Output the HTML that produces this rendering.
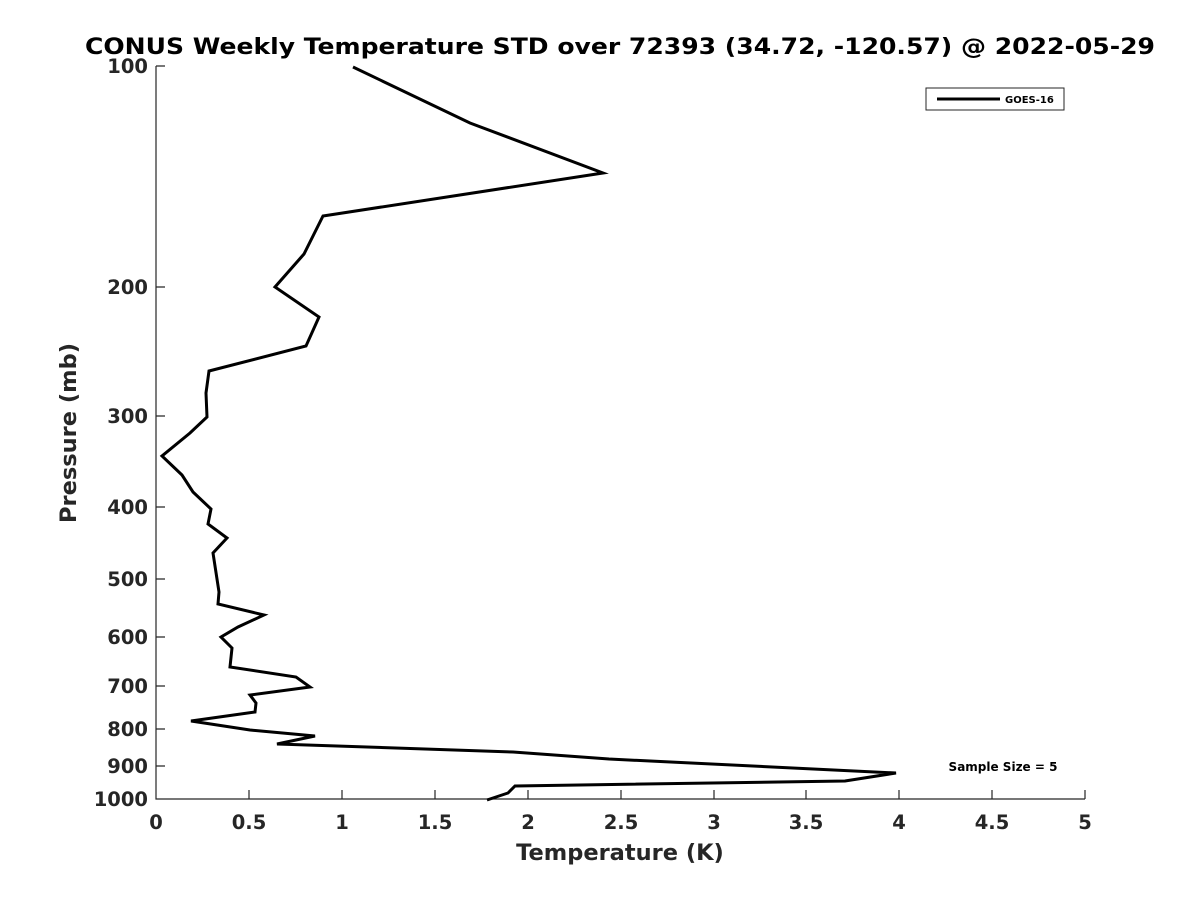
<!DOCTYPE html>
<html><head><meta charset="utf-8"><style>body{margin:0;background:#fff}svg{display:block}</style></head>
<body>
<svg width="1200" height="900" xmlns="http://www.w3.org/2000/svg" font-family="DejaVu Sans, Liberation Sans, sans-serif" font-weight="bold" fill="#262626">
<rect width="1200" height="900" fill="#fff"/>
<text x="620" y="54" font-size="22.5" text-anchor="middle" fill="#000" textLength="1070" lengthAdjust="spacingAndGlyphs">CONUS Weekly Temperature STD over 72393 (34.72, -120.57) @ 2022-05-29</text>
<g stroke="#262626" stroke-width="1.2" fill="none">
<path d="M156,66 V799 H1085"/>
<path d="M156,66 h9 M156,287 h9 M156,416 h9 M156,507 h9 M156,579 h9 M156,637 h9 M156,686 h9 M156,729 h9 M156,766 h9"/>
<path d="M249,799 v-9 M342,799 v-9 M435,799 v-9 M528,799 v-9 M621,799 v-9 M714,799 v-9 M806,799 v-9 M899,799 v-9 M992,799 v-9 M1085,799 v-9"/>
</g>
<g font-size="19.5" text-anchor="end">
<text x="148" y="73">100</text><text x="148" y="294">200</text><text x="148" y="423">300</text><text x="148" y="514">400</text><text x="148" y="586">500</text><text x="148" y="644">600</text><text x="148" y="693">700</text><text x="148" y="736">800</text><text x="148" y="773">900</text><text x="148" y="806">1000</text>
</g>
<g font-size="19.5" text-anchor="middle">
<text x="156" y="829">0</text><text x="249" y="829">0.5</text><text x="342" y="829">1</text><text x="435" y="829">1.5</text><text x="528" y="829">2</text><text x="621" y="829">2.5</text><text x="714" y="829">3</text><text x="806" y="829">3.5</text><text x="899" y="829">4</text><text x="992" y="829">4.5</text><text x="1085" y="829">5</text>
</g>
<text x="620" y="860" font-size="22.5" text-anchor="middle">Temperature (K)</text>
<text transform="translate(76,433) rotate(-90)" font-size="22.5" text-anchor="middle">Pressure (mb)</text>
<polyline fill="none" stroke="#000" stroke-width="3" stroke-linejoin="miter" points="353,67 470,123 603,173 323,216 304,254 275,287 319,317 306,346 209,371 206,393 207,417 190,433 162,456 182,475 193,492 211,509 208,524 227,538 213,553 219,592 218,604 264,615 238,627 221,637 232,648 230,667 296,677 310,687 250,695 256,703 255,712 191,721 250,730 315,736 277,744 513,752 609,759 896,773 845,781 515,786 508,793 487,800"/>
<rect x="926" y="88" width="138" height="22" fill="#fff" stroke="#262626" stroke-width="1"/>
<line x1="937" y1="99" x2="1000" y2="99" stroke="#000" stroke-width="3"/>
<text x="1005" y="103" font-size="10" fill="#000">GOES-16</text>
<text x="1003" y="771" font-size="12" text-anchor="middle" fill="#000">Sample Size = 5</text>
</svg>
</body></html>
